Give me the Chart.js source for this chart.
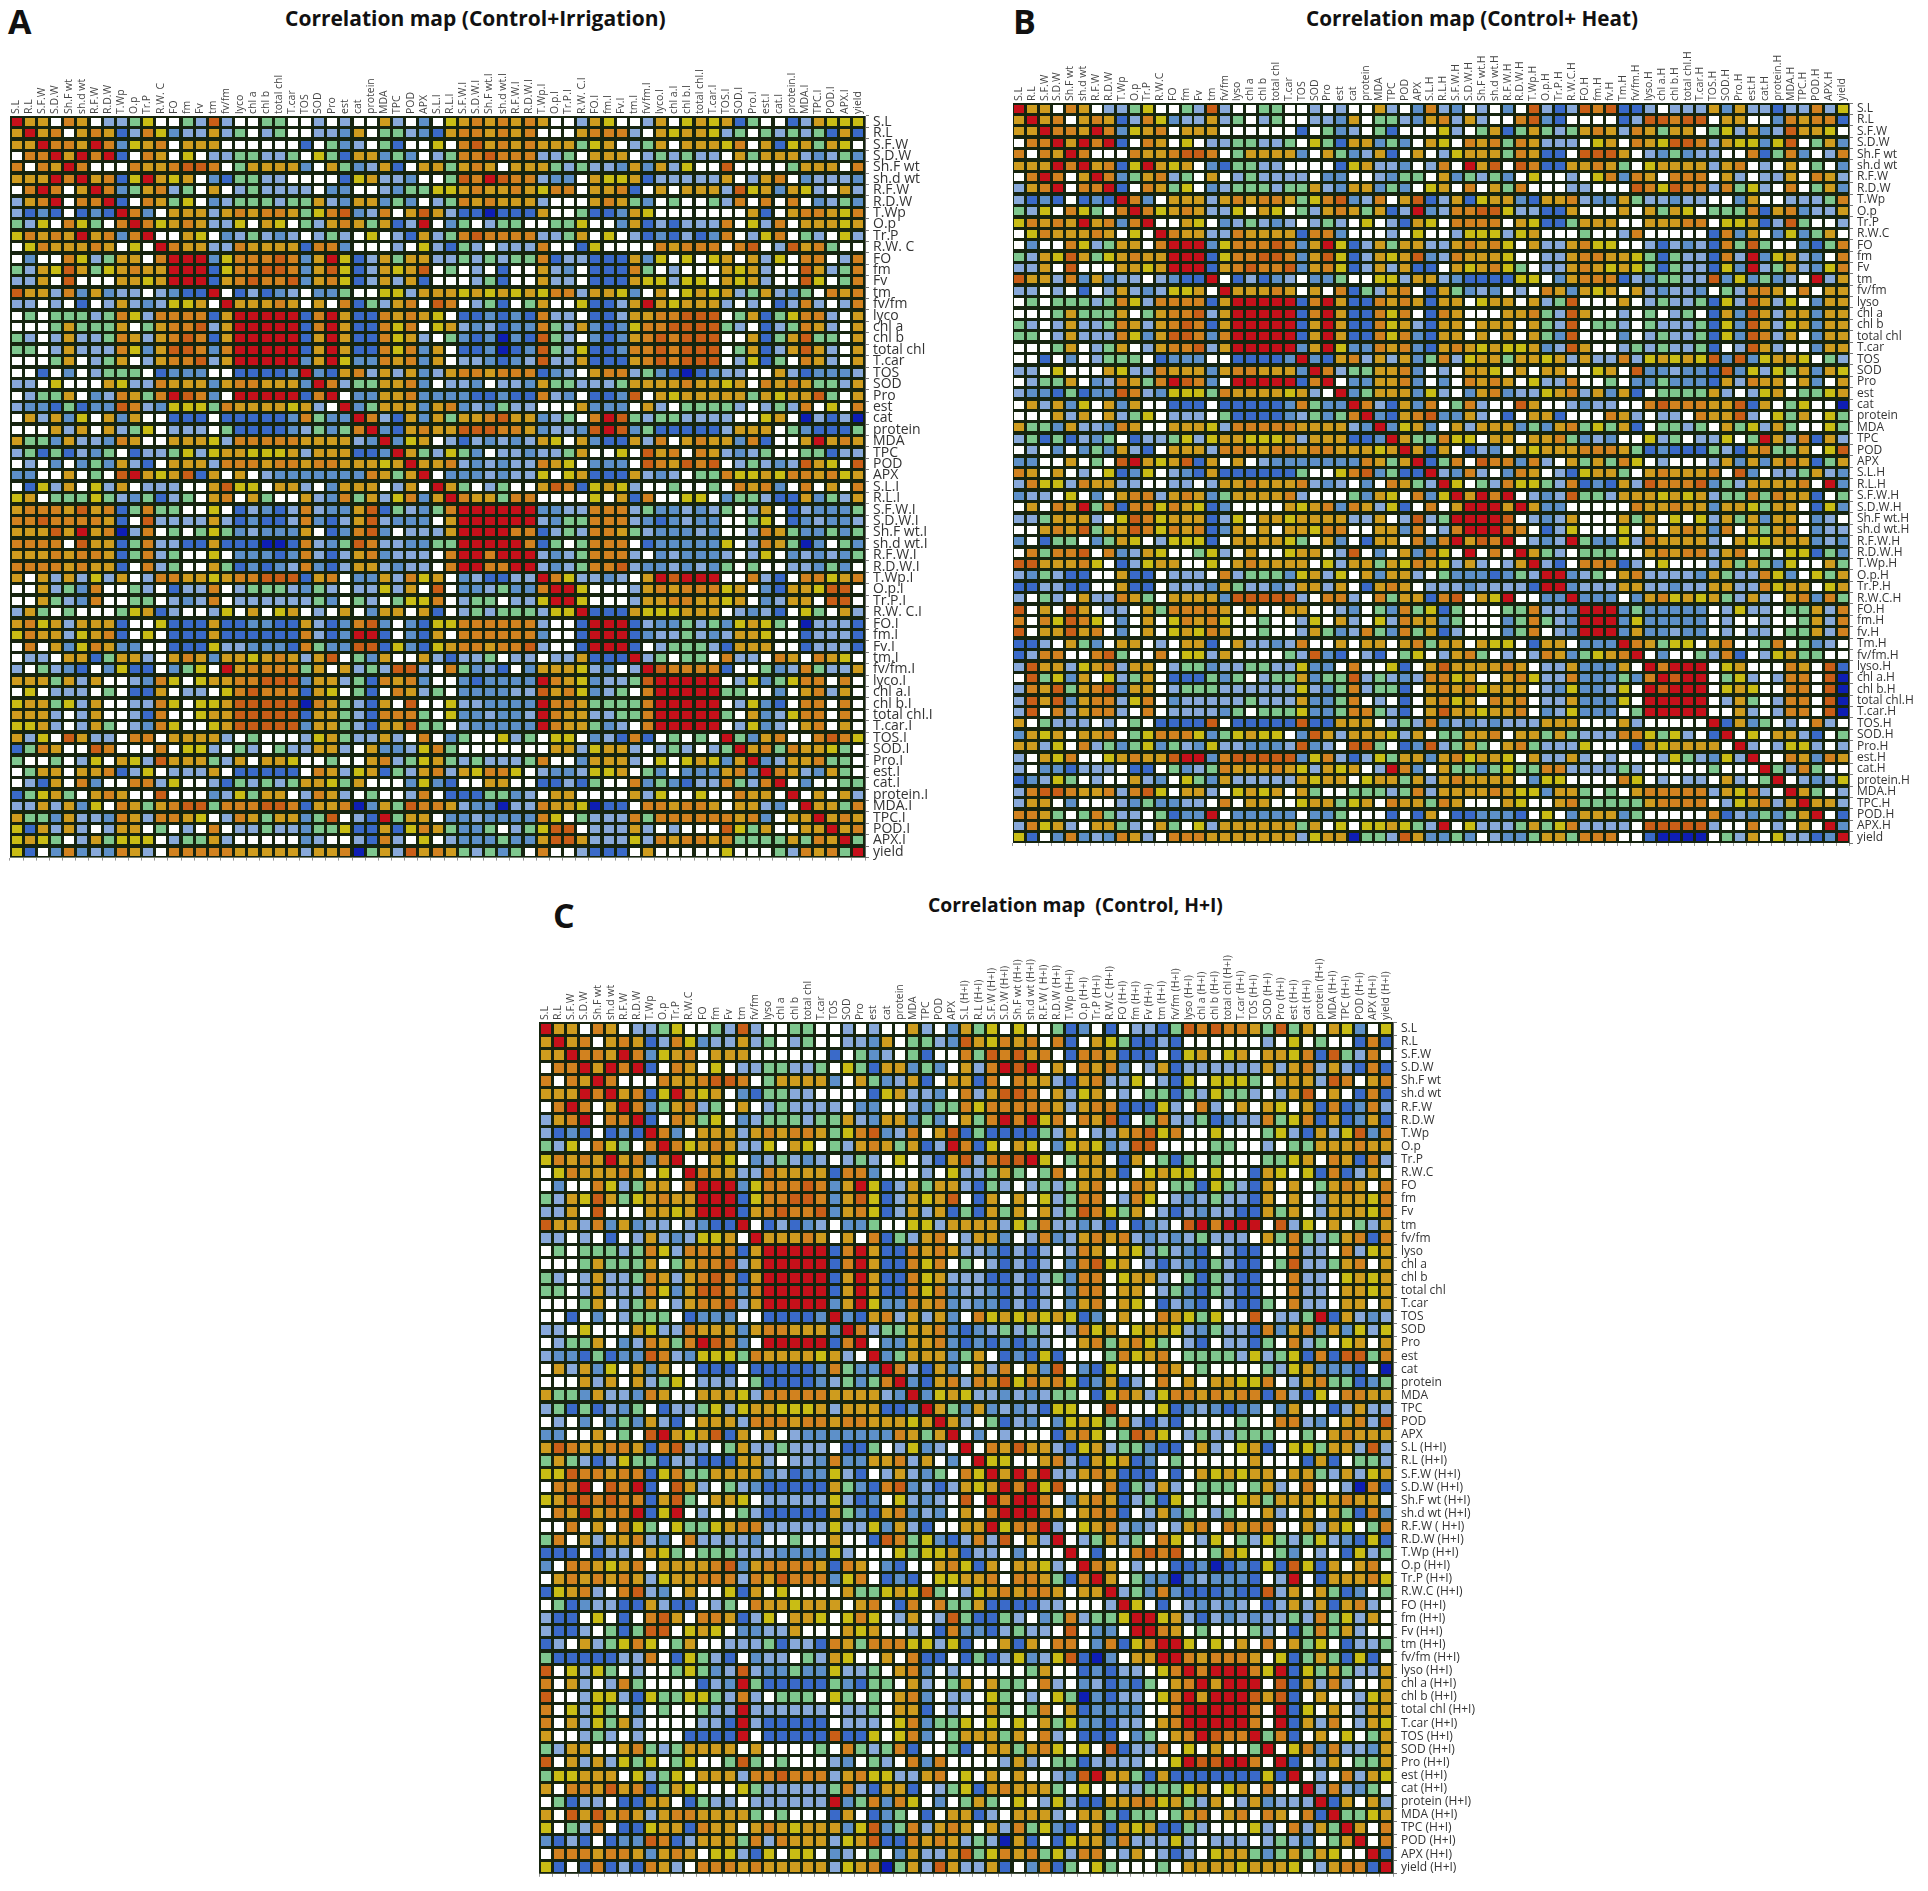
<!DOCTYPE html>
<html>
<head>
<meta charset="utf-8">
<title>Correlation maps</title>
<script src="https://cdn.jsdelivr.net/npm/chart.js@4"></script>
<style>
  body { margin: 0; background: #fff; width: 1928px; height: 1891px; position: relative; overflow: hidden; }
  canvas { position: absolute; filter: blur(0.7px); }
  .title, .tag { position: absolute; white-space: pre; color: #111; font-family: "Open Sans", sans-serif; font-weight: 700; }
  .title { font-size: 21px; }
  .tag { font-size: 34px; }
</style>
</head>
<body>
<div class="tag" style="left:8px;top:-2px">A</div>
<div class="title" style="left:285px;top:4px">Correlation map (Control+Irrigation)</div>
<canvas id="mapA" style="left:0;top:0"></canvas>
<div class="tag" style="left:1013px;top:-2px">B</div>
<div class="title" style="left:1306px;top:4px;font-size:20.7px">Correlation map (Control+ Heat)</div>
<canvas id="mapB" style="left:1000px;top:0"></canvas>
<div class="tag" style="left:553px;top:892px">C</div>
<div class="title" style="left:928px;top:891px;font-size:19.3px">Correlation map  (Control, H+I)</div>
<canvas id="mapC" style="left:500px;top:880px"></canvas>

<script>
// tick labels
const labelsA = ["S.L","R.L","S.F.W","S.D.W","Sh.F wt","sh.d wt","R.F.W","R.D.W","T.Wp","O.p","Tr.P","R.W. C","FO","fm","Fv","tm","fv/fm","lyco","chl a","chl b","total chl","T.car","TOS","SOD","Pro","est","cat","protein","MDA","TPC","POD","APX",
  "S.L.I","R.L.I","S.F.W.I","S.D.W.I","Sh.F wt.I","sh.d wt.I","R.F.W.I","R.D.W.I","T.Wp.I","O.p.I","Tr.P.I","R.W. C.I","FO.I","fm.I","Fv.I","tm.I","fv/fm.I","lyco.I","chl a.I","chl b.I","total chl.I","T.car.I","TOS.I","SOD.I","Pro.I","est.I","cat.I","protein.I","MDA.I","TPC.I","POD.I","APX.I","yield"];
const labelsB = ["S.L","R.L","S.F.W","S.D.W","Sh.F wt","sh.d wt","R.F.W","R.D.W","T.Wp","O.p","Tr.P","R.W.C","FO","fm","Fv","tm","fv/fm","lyso","chl a","chl b","total chl","T.car","TOS","SOD","Pro","est","cat","protein","MDA","TPC","POD","APX",
  "S.L.H","R.L.H","S.F.W.H","S.D.W.H","Sh.F wt.H","sh.d wt.H","R.F.W.H","R.D.W.H","T.Wp.H","O.p.H","Tr.P.H","R.W.C.H","FO.H","fm.H","fv.H","Tm.H","fv/fm.H","lyso.H","chl a.H","chl b.H","total chl.H","T.car.H","TOS.H","SOD.H","Pro.H","est.H","cat.H","protein.H","MDA.H","TPC.H","POD.H","APX.H","yield"];
const labelsC = ["S.L","R.L","S.F.W","S.D.W","Sh.F wt","sh.d wt","R.F.W","R.D.W","T.Wp","O.p","Tr.P","R.W.C","FO","fm","Fv","tm","fv/fm","lyso","chl a","chl b","total chl","T.car","TOS","SOD","Pro","est","cat","protein","MDA","TPC","POD","APX",
  "S.L (H+I)","R.L (H+I)","S.F.W (H+I)","S.D.W (H+I)","Sh.F wt (H+I)","sh.d wt (H+I)","R.F.W ( H+I)","R.D.W (H+I)","T.Wp (H+I)","O.p (H+I)","Tr.P (H+I)","R.W.C (H+I)","FO (H+I)","fm (H+I)","Fv (H+I)","tm (H+I)","fv/fm (H+I)","lyso (H+I)","chl a (H+I)","chl b (H+I)","total chl (H+I)","T.car (H+I)","TOS (H+I)","SOD (H+I)","Pro (H+I)","est (H+I)","cat (H+I)","protein (H+I)","MDA (H+I)","TPC (H+I)","POD (H+I)","APX (H+I)","yield (H+I)"];

// correlation band of every cell. the maps are symmetric so only
// the part right of the diagonal is kept.
// B deep blue, b blue, m steel, l light blue, g green, w white, y yellow, a amber, o orange, d dark orange, r red

// control x control, same in all three maps
const controlTriangle = [
  "raawoawllgywwgldlwwggwwlwlwwalwm","raowaoabloymllalgwlgwwllmawgglm","rooaromyaowaaawwwwwwbwgmlwgbww","rarorbwoawywllggllgwygbaamgmw",
  "rowwwoaaoddowgaaaamwagmlabwa","raobyrayawmbggllwwwwbyallmw","romgaolgwawlgllllwmmwwlmgg","rbwoagywmlggglggalmaamgmw",
  "romwaaalaoaooagyodmlowad","royaoallywaywglaoagablr","rwwaywmlglmlwlglwywlba","roaalloaaaaboomwwwlwy",
  "rrrmyooodomaryblagaa","rrbyooddomadyblayad","rbaodoodmaoyblalab","rwblbmlwmmgwwyyla",
  "raaaoawawobglaow","rrrrrborabboaoa","rrrrborabboyow","rrrbarabboyal",
  "rrbarabboyom","rmarymmoaom","rmbaolalam","rolggaaom",
  "rwmmaaom","rmgaaam","rolbam","rmbao","rmya","rag","ra","r"];

// rows 0-31 x columns 32-64
const blockA = [
  "wyaoaoaoawwlaywwlawyayabgwwblayyy","baooaoaowwwaooolwayaaylgwglglgbab","ywodaoaoaaagyawlgawaaayowabyagayw","lgoodooollgwaaawlglgllwagaaalmlgm",
  "agaoawaaaglgllmamalywwdwwwwgaaawo","wgdordoolmmwayyablllllawlaowmlllm","yyaoaaoayoowaaobwawaaaldyamaylwal","lgoaoaaalwwwaoagmwgwwglowowowmlgm",
  "albbBbbbawwgbbmaywwwwwwwabwaooayo","wmgwlggwwggywwmablblllowylowaaaya","lgodoooollgawywlbmblbmowlyowglwyl","lbglwlllowwbywwwwoaooowodwldaogww",
  "llglglggobllbbbamywywyawalywoowlo","wgwlwbwwalmwbbbogwlwwwayalwwdalgo","wwwlgbwwallwbbbayylyywayalwwdywgo","aayayayayoolaaymwawyayalgalmgwoao",
  "dowlgbwgawwybblarayaaalwlwblolwlo","ywbbmbmbollwbblaaoodddwgabgyoolwa","yalmlbmmoglambmyooddddglwblgoalwa","wgmbmBmbdglwmbmaododddwwabgadggwa",
  "awbbmBbmdglybbmoododddwgabladalwa","awllmbmldllabbbaododddwlybgwoalwa","laooaooobmlwaoolgmbBbmllwwalbmmml","wllmwllmagglllgaaaaoaayawoaoaggla",
  "mmmbbmbbolmwbbmdwayaaaaagayaadgwa","aomlmgllwwwammmwalwgggglwlglowywo","agaaodaamlgwordglggllllwwyawBlblB","aadddooamllmdrdmgbbbbblaaawgmbbbg",
  "wlblmlmlaywambbalowaoaamobwwaraoa","lygmwllmllgawwywdaowoalmlgwwggbll","aolmlmlloaywmmmwdoadodwlglmldaywd","wmmmlmllywyabbbalmlwggoyyayooaoya"];
const tailA = [
  "ragwlgwwadobyaylwwgwwgwoaomwowawo","roaagoowwwwywabowwyywmgglbbamgla","rrrrrrmmllooolgmmlmlgwlawblmmmg","rrrrrlmggooolmbmlmmwwgywbmlmml",
  "rrooblglooaglmmmlmwwloagmmgmg","rrobgwgooowbmmmmmywloagBmwgm","rrlmlgooolwmlmmmlwlywmlmlmg","rlmlgoodlmmlmlmgwgwwllmgmw",
  "royllmlwardrrrwwolbwooyao","rrywwwlaoaoooyawmbaayddw","rywwwlaaooaayawmlaawddw","rbbbayyyaaawlmlbwygwal",
  "rrrblmmglgmyaygwBlllb","rrbmllglmlaaywwblllb","rbwlggglbaaawwblllb","rlgwggwollwoawoayw",
  "rdoooobwwgmloglla","rrrrrwlymgyoowow","rrrrggwwmwaolaw","rrrwlymbwoowow",
  "rrgwamlyoowow","rwlymlwaowaw","rgmaowwodoy","raogoaaygw",
  "rmlaaoggw","roalmagw","rwmwwgg","rwawal","raago","raoa","rao","rg","r"];

const blockB = [
  "olmwlwmwdlbldodbblwlllamallblloly","aolalwwodmbwwwwblddoddwaawwmoaoob","wylwgabgaglgaoaloagaawgylamldaayw","aywoaogoalllwyawoayddolayymydwgam",
  "wlyaaagoabbwdddawlmgmllwwobgomwlo","lowradwdobbaaoagwyaaaalaowlwawgwm","wamglgmwywwlwyomoawooowalwllawoal","yawowagowwwllwwwdoydoologylwowgam",
  "blabyaambaaolmmagllmllwwmawwlllgo","mlooddyllbbawwwawagaywgggobaomlla","ywoooowaybbgaaawwaaaoowyyabldgwwl","wwlyyylyawwwgwwlowwwwwbomawmymgaw",
  "llaoaoywallaoyywwlblmlbogdgwwmbgo","mloaaaywwllaooaaygbgllbolrmyalmwo","bwayaoygwllaoayaygbgllbymrlgalmyo","almbbbbyywmaoooblmgglldmymgmlwrla",
  "bagmlmwlwoamayawalmllmwglooawowaa","baawyaawalgdwwwawlgllgbyldalywmaa","boawwwaaogldawwlwgwlgwbamdalaamaa","baawaaawagldwgglwglllgbymdalyamaa",
  "baawawawagmdwwwmwlgllgbymdolawmaa","baoayayyamldawwlglgllgbwldalwwmaa","golyaagaayalallolyayaydmdmyaaywgl","wlwaaywawaawwyawdmmlmmbdmylygamay",
  "wmwoaoawyllowwgwmmgmmmbaloaawamwa","ylwmaomllyaolamabwggggalwlyawggya","owgolwwdawwlmllwwodoooaadbawgywwB","dmmalwbwaabwwwoalwllwoaadlwygawyg",
  "mwalaaamgmaogygabwgglgwagylagwwyg","goyywaawaaogmlmwwylgwllywgralobal","bawblmwayaaaoooagbmbbbglbaoggawyd","bgowdoomolwagagoywlwwwlamamaoabga"];
const tailB = [
  "rlmolwmoawlbyaagwaoaaaowdmwllgalm","rywgloyyglobmbaldooodmglaaaaowrm","rarorwlmldgglaaayayalggogoaabwg","rrrarammwwwwwoaaoaamaaygaawbym",
  "rrdwlmlawwwagawywylagamaawmlw","roowblywwwywawaoamowagaowmll","rwlmlrgmmyloaaaalwayyaaamlm","raglwgggwwaoaoolaowgwyybgm",
  "rlbwoooblwywwwlagagmywwag","rrmlgwaollllmaglloymwyga","rmlllaallmllaalloyaawya","rmmmwmaoyayaglalwaomog",
  "rrrmgmmmmmwlyllwggalo","rrmymmmmmwlwwlwwgalo","rmammlmmwlwllwggalo","roagyywaowwgowgmlw",
  "rwmwwglobwlyaggww","rorrrwyawwwoawdb","rdrrwgylwloowdB","rrrwyaywwoowdB",
  "rrwlagwloowdB","rwwalwloowdB","rbamgwlwolw","rwywaalbwg",
  "rlwlyylwl","rwwoamoa","rglogww","rwlmly","ragwl","raal","rwb","rm","r"];

const blockC = [
  "agywywwgbmwbwllbgdodooagdgawaymwy","dayoaowobwaygbblbwwwwwwlwywgwwbob","ogdodaowbooabbbwbyawyawaayobdglow","alordrwawoaomwlabllllllalaolalbob",
  "abowoaalbaollywlbywyyygwaaaldowao","oladdowalyawlwggbglygglwladwawbob","oyoooooalaoobbbylwolwawaywabobmol","agororyowoadbwgollgbmllogyobabmab",
  "bgbbbbglawllaodyowwywwwgylbalydmo","obywaywmyaymlddwwwwggwwlwggaaaoaa","dloddrywgaawbawgbgwgwwwggyawoabol","llgagwgowaaabwyayywywwbaywyboblaw",
  "lbglwlglgaowwoawggbyglbawawgaoawo","wbawawylgoowloywlmlgllbawawlaaayo","gbagawalgdoygawlblmllbbagawlaaayo","aaalygollmlbwbmlwdrorrrwdlywawgla",
  "laamwlomlaoaolmlmlglllwagoglgaobo","llmblblwloawaylglmbwlbbwwollwolya","gwlblblwmodyawlblmbglbbwgdllgaowa","llbblblgmoowyaalwgbglbbwwollwyaya",
  "llmblblwmoowaawlgmbglbbwwollwaaya","lmmblblwmaowaywblmbwlbbgwollwaawa","woyayayaybmwawwoaygywwdwllgrbalml","bmlglglwloyawyaaylmgllbomaomamyly",
  "bmbmbmlwwaogaoygwlbwllbgwolgwyawa","gawbmbybwwwgoyaowgggglylgybobddgo","walowamdwmbywwwoawgwwwwglyammmbwB","loadyoaoybmablwowawaayyowlaoggbmg",
  "yllmlmlggwbyoalyooaoaoobolbywooaa","mamlmlbyywwdwwwybmlmbmmwmawwblall","lwgblmwmyaygolblbwwwwgwwoolmwaold","wmwlwwwbaoywgdoywlgllgggwwgwaoaaa"];
const tailC = [
  "rwoadaalbyalggmbbwalwyabwyygaaldl","ryywwaolbayabmwgwwwwwawwwbabwggl","rarorllaoabbbwbwayayaawaaglalya","rorydwwwobglalwgggwgalwowwlBob",
  "rrowmaoablgbywgwwyagaaayaoaaw","roawaoobwlamgwlgwwalwawagbom","rlwyaolmlwlaowoaoowwalaywgo","rwlgalgwoywlywglyglgylmbyb",
  "rwbwwododwwgaywwgmwlwbylg","roawlwwbbmBbmbybdybawaow","rawgmmBmlmmmbwlrwbaaaoy","rlgmombbbmbbdlawagbmwg",
  "rywbwlmlmlwblalabaolw","rryalblmlmllglogylaw","roawgwwwglwbgogalww","rrywywawowagywbllg",
  "roaoooawybgagbybw","rorrroyrbygaglla","rarrrwdbalolwwa","rrrdadbwawwlya",
  "rrowrbywawlaa","rowrbalowlay","rgobwawywga","rwyomollma",
  "rbwlawgga","rwlwolay","rlolmgw","rbawal","rggya","rawo","rwo","rb","r"];

// look of the bands
const bandColours = { B:"#0e1eb4", b:"#3a6ac9", m:"#5d90c9", l:"#88a9da", g:"#7ec78e", w:"#ffffff",
                      y:"#c9bd14", a:"#cf9c1e", o:"#d2821f", d:"#ca5e17", r:"#c6101a" };
const gapColour = "#16240f";

function buildMatrix(block, tail) {
  const m = [];
  for (let i = 0; i < 65; i++) m.push(new Array(65).fill("w"));
  for (let i = 0; i < 65; i++) {
    const row = i < 32 ? controlTriangle[i] + block[i] : tail[i - 32];
    for (let j = i; j < 65; j++) {
      const band = row[j - i] || "w";
      m[i][j] = band;
      m[j][i] = band;
    }
  }
  return m;
}

function cellImage(colour, w, h) {
  const c = document.createElement("canvas");
  c.width = w; c.height = h;
  const g = c.getContext("2d");
  g.fillStyle = colour;
  g.fillRect(0, 0, w, h);
  return c;
}

const plotBackground = {
  id: "plotBackground",
  beforeDatasetsDraw(chart) {
    const a = chart.chartArea;
    chart.ctx.save();
    chart.ctx.fillStyle = gapColour;
    chart.ctx.fillRect(a.left, a.top, a.width, a.height);
    chart.ctx.restore();
  }
};

function drawMap(id, labels, matrix, box) {
  const canvas = document.getElementById(id);
  canvas.width = box.w; canvas.height = box.h;
  canvas.style.width = box.w + "px"; canvas.style.height = box.h + "px";

  const datasets = Object.keys(bandColours).map(band => {
    const points = [];
    matrix.forEach((row, i) => row.forEach((v, j) => {
      if (v === band) points.push({ x: labels[j], y: labels[i] });
    }));
    return { label: band, data: points, pointStyle: cellImage(bandColours[band], box.cellW, box.cellH) };
  });

  new Chart(canvas.getContext("2d"), {
    type: "scatter",
    data: { datasets },
    plugins: [plotBackground],
    options: {
      responsive: false,
      animation: false,
      events: [],
      layout: { padding: { left: box.left, right: 0, top: 0, bottom: 0 } },
      plugins: { legend: { display: false }, tooltip: { enabled: false } },
      scales: {
        x: {
          type: "category", labels, position: "top", offset: true,
          grid: { display: false, drawTicks: false }, border: { display: false },
          afterFit(s) { s.height = box.top; },
          ticks: { autoSkip: false, minRotation: 90, maxRotation: 90, padding: 2, labelOffset: box.labelShift, color: "#444",
                   font: { family: "'Open Sans'", size: box.topFont } }
        },
        // only carries the small tick marks under the map
        under: {
          type: "category", labels, position: "bottom", offset: true,
          grid: { offset: true, drawOnChartArea: false, tickLength: 3, color: "#999" }, border: { display: false },
          afterFit(s) { s.height = box.bottom; },
          ticks: { display: false }
        },
        y: {
          type: "category", labels, position: "right", offset: true,
          grid: { offset: true, drawOnChartArea: false, tickLength: 4, color: "#777" },
          border: { color: "#666" },
          afterFit(s) { s.width = box.right; },
          ticks: { autoSkip: false, padding: 4, color: "#333",
                   font: { family: "'Open Sans'", size: box.sideFont } }
        }
      }
    }
  });
}

drawMap("mapA", labelsA, buildMatrix(blockA, tailA),
  { w: 1000, h: 870, left: 10, top: 116, right: 135, bottom: 12, cellW: 10, cellH: 8, topFont: 10.5, sideFont: 14, labelShift: 12 });
drawMap("mapB", labelsB, buildMatrix(blockB, tailB),
  { w: 928, h: 860, left: 13, top: 103, right: 79, bottom: 17, cellW: 10, cellH: 8, topFont: 10.5, sideFont: 12, labelShift: 12 });
drawMap("mapC", labelsC, buildMatrix(blockC, tailC),
  { w: 1000, h: 1005, left: 39, top: 142, right: 107, bottom: 8, cellW: 10, cellH: 10, topFont: 10.5, sideFont: 12, labelShift: 12 });
</script>
</body>
</html>
